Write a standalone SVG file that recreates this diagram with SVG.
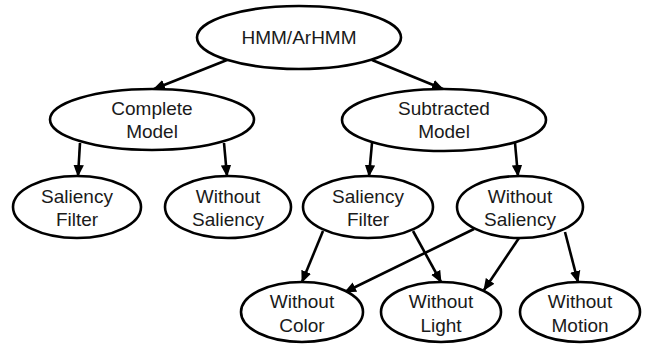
<svg xmlns="http://www.w3.org/2000/svg" width="645" height="344" viewBox="0 0 645 344">
<style>
.n ellipse{fill:#fff;stroke:#000;stroke-width:2.6}
.n text{font-family:"Liberation Sans",Arial,sans-serif;font-size:19px;fill:#1a1a1a;text-anchor:middle}
.c line{stroke:#000;stroke-width:2.6;marker-end:url(#ah)}
</style>
<defs>
<marker id="ah" markerUnits="userSpaceOnUse" markerWidth="12" markerHeight="12" viewBox="0 0 12 12" refX="11" refY="6" orient="auto">
<path d="M0,0.8 L12,6 L0,11.2 Z" fill="#000"/>
</marker>
</defs>
<rect width="645" height="344" fill="#fff"/>
<g id="connectors" class="c">
<line x1="227" y1="60" x2="154" y2="89"/>
<line x1="372" y1="60" x2="443" y2="89"/>
<line x1="80" y1="143" x2="78" y2="176"/>
<line x1="224" y1="143" x2="227" y2="176"/>
<line x1="372" y1="143" x2="369" y2="176"/>
<line x1="515" y1="143" x2="518" y2="176"/>
<line x1="323" y1="231" x2="302" y2="282"/>
<line x1="413" y1="231" x2="441" y2="282"/>
<line x1="474" y1="229" x2="345" y2="292"/>
<line x1="519" y1="238" x2="484" y2="290"/>
<line x1="565" y1="232" x2="578" y2="282"/>
</g>
<g id="hmm" class="n"><ellipse cx="299" cy="37.5" rx="102" ry="31.5"/><text x="299" y="44">HMM/ArHMM</text></g>
<g id="complete" class="n"><ellipse cx="152" cy="119.5" rx="102" ry="30.5"/><text x="152" y="115">Complete</text><text x="152" y="138">Model</text></g>
<g id="subtracted" class="n"><ellipse cx="444" cy="120" rx="102" ry="31"/><text x="444" y="115">Subtracted</text><text x="444" y="138">Model</text></g>
<g id="sal1" class="n"><ellipse cx="77" cy="207" rx="64" ry="31"/><text x="77" y="203">Saliency</text><text x="77" y="226">Filter</text></g>
<g id="wos1" class="n"><ellipse cx="228" cy="207" rx="63" ry="31"/><text x="228" y="203">Without</text><text x="228" y="226">Saliency</text></g>
<g id="sal2" class="n"><ellipse cx="368" cy="207" rx="65" ry="31"/><text x="368" y="203">Saliency</text><text x="368" y="226">Filter</text></g>
<g id="wos2" class="n"><ellipse cx="520" cy="207" rx="63" ry="31"/><text x="520" y="203">Without</text><text x="520" y="226">Saliency</text></g>
<g id="color" class="n"><ellipse cx="302" cy="312" rx="61" ry="30"/><text x="302" y="308">Without</text><text x="302" y="332">Color</text></g>
<g id="light" class="n"><ellipse cx="441" cy="312" rx="60" ry="30"/><text x="441" y="308">Without</text><text x="441" y="332">Light</text></g>
<g id="motion" class="n"><ellipse cx="580" cy="312" rx="60" ry="30"/><text x="580" y="308">Without</text><text x="580" y="332">Motion</text></g>
</svg>
